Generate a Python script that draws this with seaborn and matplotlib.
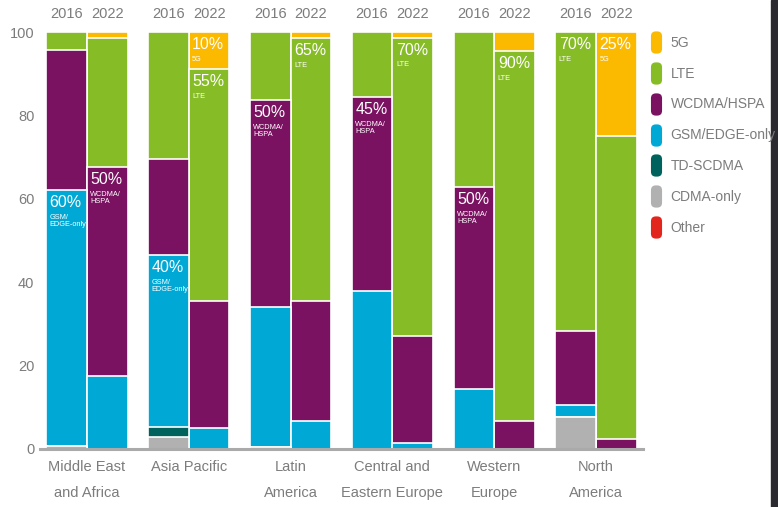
import numpy as np
import pandas as pd
import matplotlib.pyplot as plt
import seaborn as sns
from matplotlib.lines import Line2D
from matplotlib.patches import Rectangle, FancyBboxPatch

regions = ["Middle East\nand Africa", "Asia Pacific", "Latin\nAmerica",
           "Central and\nEastern Europe", "Western\nEurope", "North\nAmerica"]
years = ["2016", "2022"]

# share (%) per bar, order: MEA 16, MEA 22, AP 16, AP 22, LA 16, LA 22,
# CEE 16, CEE 22, WE 16, WE 22, NA 16, NA 22
other = [0, 0, 0, 0, 0, 0, 0, 0, 0, 0, 0, 0]
cdma = [0.6, 0, 2.9, 0, 0.5, 0, 0, 0, 0, 0, 7.7, 0]
tdscdma = [0, 0, 2.4, 0, 0, 0, 0, 0, 0, 0, 0, 0]
gsm = [61.5, 17.5, 41.2, 5.0, 33.5, 6.7, 37.9, 1.4, 14.4, 0, 2.9, 0]
wcdma = [33.6, 50.1, 23.0, 30.5, 49.7, 28.8, 46.5, 25.7, 48.4, 6.7, 17.7, 2.3]
lte = [4.3, 31.0, 30.5, 55.6, 16.3, 63.0, 15.6, 71.5, 37.2, 88.7, 71.7, 72.8]
fiveg = [0, 1.4, 0, 8.9, 0, 1.5, 0, 1.4, 0, 4.6, 0, 24.9]

# bottom -> top stacking order
techs = ["Other", "CDMA-only", "TD-SCDMA", "GSM/EDGE-only", "WCDMA/HSPA", "LTE", "5G"]
series = [other, cdma, tdscdma, gsm, wcdma, lte, fiveg]
colors = {"5G": "#fbb900", "LTE": "#86bc25", "WCDMA/HSPA": "#7a1161",
          "GSM/EDGE-only": "#00a8d6", "TD-SCDMA": "#00625c",
          "CDMA-only": "#b1b1b1", "Other": "#e3261d"}

# in-bar callouts: region, year, segment, big text, small text
callouts = [
    ("Middle East\nand Africa", "2016", "GSM/EDGE-only", "60%", "GSM/\nEDGE-only"),
    ("Middle East\nand Africa", "2022", "WCDMA/HSPA", "50%", "WCDMA/\nHSPA"),
    ("Asia Pacific", "2016", "GSM/EDGE-only", "40%", "GSM/\nEDGE-only"),
    ("Asia Pacific", "2022", "5G", "10%", "5G"),
    ("Asia Pacific", "2022", "LTE", "55%", "LTE"),
    ("Latin\nAmerica", "2016", "WCDMA/HSPA", "50%", "WCDMA/\nHSPA"),
    ("Latin\nAmerica", "2022", "LTE", "65%", "LTE"),
    ("Central and\nEastern Europe", "2016", "WCDMA/HSPA", "45%", "WCDMA/\nHSPA"),
    ("Central and\nEastern Europe", "2022", "LTE", "70%", "LTE"),
    ("Western\nEurope", "2016", "WCDMA/HSPA", "50%", "WCDMA/\nHSPA"),
    ("Western\nEurope", "2022", "LTE", "90%", "LTE"),
    ("North\nAmerica", "2016", "LTE", "70%", "LTE"),
    ("North\nAmerica", "2022", "5G", "25%", "5G"),
]

bar_region = [r for r in regions for y in years]
bar_year = [y for r in regions for y in years]
rows = []
for tech, vals in zip(techs, series):
    for r, y, v in zip(bar_region, bar_year, vals):
        rows.append({"region": r, "year": y, "tech": tech, "value": v})
df = pd.DataFrame(rows)
df["tech"] = pd.Categorical(df["tech"], techs, ordered=True)
df = df.sort_values(["region", "year", "tech"])
df["top"] = df.groupby(["region", "year"], observed=True)["value"].cumsum()

sns.set_theme(style="white")
plt.rcParams["font.family"] = ["Liberation Sans", "DejaVu Sans"]
txt = "#7c7c7c"

fig = plt.figure(figsize=(7.78, 5.07), dpi=100)
ax = fig.add_axes([40 / 778, 58 / 507, 603 / 778, 417 / 507])

# draw cumulative tops from the top layer down so each layer sits on the next
for tech in techs[::-1]:
    d = df[df["tech"] == tech]
    sns.barplot(data=d, x="region", y="top", hue="year", order=regions,
                hue_order=years, palette={y: colors[tech] for y in years},
                saturation=1, errorbar=None, width=0.8, legend=False,
                edgecolor="white", linewidth=1.2, ax=ax)

for region, year, tech, big, small in callouts:
    i = regions.index(region)
    x = i - 0.4 if year == "2016" else i
    top = df[(df["region"] == region) & (df["year"] == year) & (df["tech"] == tech)]["top"].iloc[0]
    ax.annotate(big, xy=(x, top), xytext=(2.5, -3.5), textcoords="offset points",
                ha="left", va="top", color="white", fontsize=11.5)
    ax.annotate(small, xy=(x, top), xytext=(2.5, -17), textcoords="offset points",
                ha="left", va="top", color="white", fontsize=5.3, linespacing=1.0)

for i in range(len(regions)):
    for j, y in enumerate(years):
        ax.text(i - 0.2 + 0.4 * j, 104.2, y, ha="center", va="center",
                color=txt, fontsize=10.5, clip_on=False)

ax.set_ylim(0, 100)
ax.set_xlim(-0.46, 5.46)
ax.set_yticks([0, 20, 40, 60, 80, 100])
ax.set_xlabel("")
ax.set_ylabel("")
ax.tick_params(axis="both", length=0, colors=txt, labelsize=10.5)
ax.tick_params(axis="y", pad=4)
ax.tick_params(axis="x", pad=8)
for s in ["top", "right", "left"]:
    ax.spines[s].set_visible(False)
ax.spines["bottom"].set_color("#aaaaaa")
ax.spines["bottom"].set_linewidth(2.2)
for lbl in ax.get_xticklabels():
    lbl.set_linespacing(2.05)

# rounded tall legend swatches
box = FancyBboxPatch((-0.25, -0.5), 0.5, 1.0, boxstyle="round,pad=0,rounding_size=0.22")
swatch = box.get_path()
handles = [Line2D([], [], linestyle="none", marker=swatch, markersize=16,
                  markerfacecolor=colors[t], markeredgecolor="none", label=t)
           for t in techs[::-1]]
fig.legend(handles=handles, loc="upper left", bbox_to_anchor=(645 / 778, 1 - 30 / 507),
           frameon=False, fontsize=10, labelcolor=txt, handlelength=0.8,
           handletextpad=0.65, labelspacing=1.22, borderaxespad=0)

fig.patches.append(Rectangle((771 / 778, 0), 7 / 778, 1, transform=fig.transFigure,
                             color="#2b2a30", zorder=0))

fig.savefig("out.png", dpi=100)
